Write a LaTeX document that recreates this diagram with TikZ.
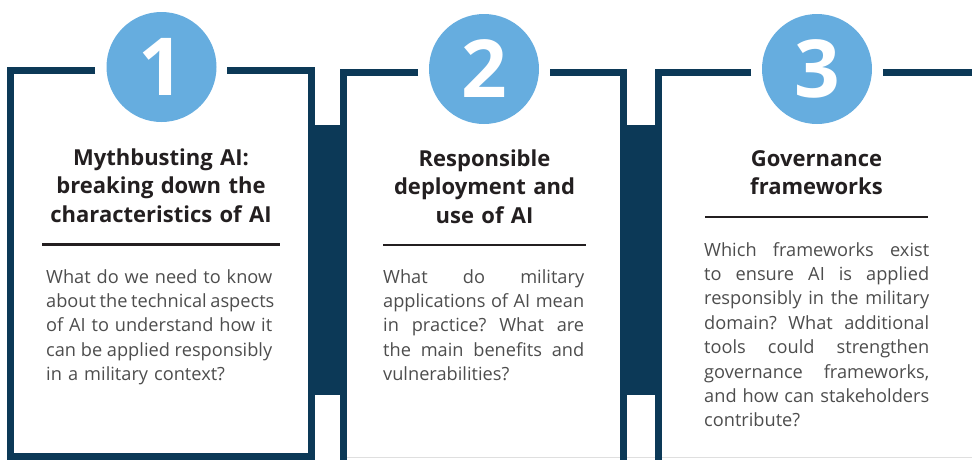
\documentclass[tikz,border=0pt]{standalone}
\usepackage{fontspec}
\setmainfont{Open Sans}
\definecolor{navy}{HTML}{0C3957}
\definecolor{sky}{HTML}{66ADDF}
\definecolor{ink}{HTML}{231F20}
\definecolor{greytext}{HTML}{4D4D4D}
\newlength{\blurbwd}
\newcommand{\jline}[1]{\hbox to\blurbwd{\spaceskip=0.26em plus 1fil minus 0.06em\relax #1}}
\frenchspacing
\begin{document}
\begin{tikzpicture}[x=1pt, y=-1pt,
    frame/.style={navy, line width=7pt},
    badge/.style={circle, fill=sky, minimum size=110pt, inner sep=0pt, text=white, font=\fontsize{80}{80}\selectfont\bfseries},
    heading/.style={anchor=base, align=center, text width=260pt, inner sep=0pt, text=ink, font=\fontsize{22}{28.5}\selectfont\bfseries},
    rule/.style={ink, line width=2.5pt},
    blurb/.style={anchor=base west, inner sep=0pt, text width=#1, text=greytext, font=\fontsize{18.2}{24.4}\selectfont}]
    \useasboundingbox (0,0) rectangle (972,459);
    \draw[line width=1.2pt, gray!25] (347,457.5) -- (972,457.5);
    % panel frames
    \draw[frame] (95,70) -- (10.5,70) -- (10.5,456.5) -- (311.5,456.5) -- (311.5,70) -- (227,70);
    \draw[frame] (418,72.5) -- (343.5,72.5) -- (343.5,462);
    \draw[frame] (550,72.5) -- (623.5,72.5) -- (623.5,462);
    \draw[frame] (751,72.5) -- (658.5,72.5) -- (658.5,462);
    \draw[frame] (883,72.5) -- (975,72.5);
    \fill[navy] (308,125) rectangle (347,395);
    \fill[navy] (620,125) rectangle (662,395);
    % numbers
    \node[badge] (num1) at (161.5,67) {1};
    \node[badge] (num2) at (484,69) {2};
    \node[badge] (num3) at (817,69) {3};
    % headings
    \node[heading] (title1) at (161,165) {Mythbusting AI:\\breaking down the\\characteristics of AI};
    \node[heading] (title2) at (484.5,166) {Responsible\\deployment and\\use of AI};
    \node[heading] (title3) at (816.5,166) {Governance\\frameworks};
    \draw[rule] (42,244.5) -- (280,244.5);
    \draw[rule] (383,245) -- (586,245);
    \draw[rule] (705,217) -- (928,217);
    % questions
    \node[blurb=226pt] (body1) at (46,283) {\setlength{\blurbwd}{226pt}%
        \jline{What do we need to know}
        \jline{about the technical aspects}
        \jline{of AI to understand how it}
        \jline{can be applied responsibly}
        \hbox{in a military context?}};
    \node[blurb=201pt] (body2) at (383,283) {\setlength{\blurbwd}{201pt}%
        \jline{What do military}
        \jline{applications of AI mean}
        \jline{in practice? What are}
        \jline{the main benefits and}
        \hbox{vulnerabilities?}};
    \node[blurb=225pt] (body3) at (704,256) {\setlength{\blurbwd}{225pt}%
        \jline{Which frameworks exist}
        \jline{to ensure AI is applied}
        \jline{responsibly in the military}
        \jline{domain? What additional}
        \jline{tools could strengthen}
        \jline{governance frameworks,}
        \jline{and how can stakeholders}
        \hbox{contribute?}};
\end{tikzpicture}
\end{document}
